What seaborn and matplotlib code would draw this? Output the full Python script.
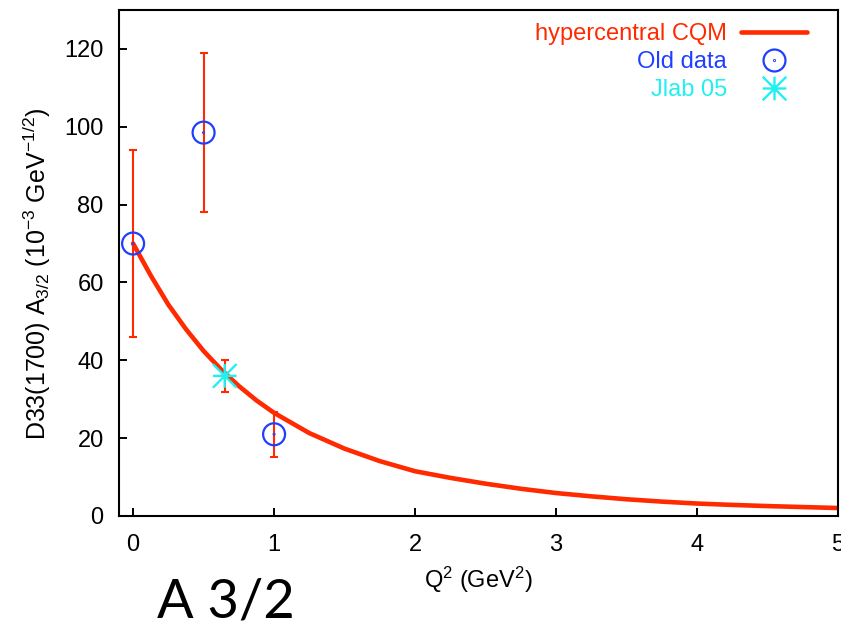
import matplotlib
matplotlib.use("Agg")
import matplotlib.pyplot as plt
import seaborn as sns
import pandas as pd
from matplotlib.path import Path
from matplotlib.lines import Line2D

# ---------------- data ----------------
curve_q2 = [0.0, 0.125, 0.25, 0.375, 0.5, 0.625, 0.75, 0.875, 1.0, 1.25, 1.5,
            1.75, 2.0, 2.25, 2.5, 2.75, 3.0, 3.25, 3.5, 3.75, 4.0, 4.25, 4.5,
            4.75, 5.0]
curve_a32 = [70.0, 61.8, 54.3, 48.0, 42.4, 37.6, 33.4, 29.7, 26.5, 21.3, 17.3,
             14.1, 11.5, 9.8, 8.3, 7.0, 5.9, 5.05, 4.3, 3.7, 3.2, 2.85, 2.55,
             2.3, 2.05]

old_q2 = [0.0, 0.5, 1.0]
old_a32 = [70.0, 98.5, 21.0]
old_err = [24.0, 20.5, 5.8]

jlab_q2 = [0.65]
jlab_a32 = [36.0]
jlab_err = [4.1]

x_ticks = [0, 1, 2, 3, 4, 5]
y_ticks = [0, 20, 40, 60, 80, 100, 120]

series_labels = ["hypercentral CQM", "Old data", "Jlab 05"]

# ---------------- style ----------------
RED = "#ff2a00"
BLUE = "#1f3fff"
CYAN = "#22f0f0"

sns.set_theme(style="white")
plt.rcParams["font.family"] = ["Liberation Sans", "DejaVu Sans"]
plt.rcParams["mathtext.fontset"] = "custom"
plt.rcParams["mathtext.rm"] = "Liberation Sans"
plt.rcParams["mathtext.it"] = "Liberation Sans:italic"
plt.rcParams["mathtext.bf"] = "Liberation Sans:bold"

# custom markers: circle with centre dot, gnuplot-like asterisk (+ and x)
circ_dot = Path.make_compound_path(Path.unit_circle(),
                                   Path.circle(center=(0, 0), radius=0.04))
star = Path([(-1, 0), (1, 0), (0, -1), (0, 1), (-1, -1), (1, 1), (-1, 1), (1, -1)],
            [Path.MOVETO, Path.LINETO] * 4)

fig = plt.figure(figsize=(8.41, 6.31), dpi=100)
ax = fig.add_axes([119 / 841, 115 / 631, 719 / 841, 506 / 631])

curve_df = pd.DataFrame({"q2": curve_q2, "a32": curve_a32})
old_df = pd.DataFrame({"q2": old_q2, "a32": old_a32})
jlab_df = pd.DataFrame({"q2": jlab_q2, "a32": jlab_a32})

# theory curve
sns.lineplot(data=curve_df, x="q2", y="a32", color=RED, linewidth=3.3,
             sort=False, ax=ax, zorder=2, legend=False)

# error bars
ax.errorbar(old_q2, old_a32, yerr=old_err, fmt="none", ecolor=RED,
            elinewidth=1.5, capsize=3, capthick=1.5, zorder=1)
ax.errorbar(jlab_q2, jlab_a32, yerr=jlab_err, fmt="none", ecolor=RED,
            elinewidth=1.5, capsize=3, capthick=1.5, zorder=1)

# data markers
sns.scatterplot(data=old_df, x="q2", y="a32", marker=circ_dot, s=15.8 ** 2,
                facecolor="none", edgecolor=BLUE, linewidth=1.6, ax=ax,
                zorder=3, legend=False)
sns.scatterplot(data=jlab_df, x="q2", y="a32", marker=star, s=17 ** 2,
                facecolor="none", edgecolor=CYAN, linewidth=1.7, ax=ax,
                zorder=4, legend=False)

# axes
ax.set_xlim(-0.1, 5.0)
ax.set_ylim(0, 130)
ax.set_xticks(x_ticks)
ax.set_yticks(y_ticks)
ax.set_xticklabels([str(t) for t in x_ticks])
ax.set_yticklabels([str(t) for t in y_ticks])
for sp in ax.spines.values():
    sp.set_visible(True)
    sp.set_color("black")
    sp.set_linewidth(1.5)
ax.tick_params(axis="both", which="major", direction="in", length=6, width=1.4,
               colors="black", labelsize=17, bottom=True, left=True,
               top=False, right=False)
ax.tick_params(axis="x", pad=13)
ax.tick_params(axis="y", pad=11)

ax.set_xlabel(r"Q$^{2}$ (GeV$^{2}$)", fontsize=17, color="black")
ax.set_ylabel(r"D33(1700) A$_{\mathit{3/2}}$ (10$^{-3}$ GeV$^{\mathit{-1/2}}$)",
              fontsize=18, color="black")
ax.xaxis.set_label_coords(0.5, -0.097)
ax.yaxis.set_label_coords(-0.092, 0.478)

# legend (gnuplot style: text right-aligned, sample on the right)
handles = [
    Line2D([], [], color=RED, linewidth=3.3),
    Line2D([], [], linestyle="none", marker=circ_dot, markersize=15.8,
           markerfacecolor="none", markeredgecolor=BLUE, markeredgewidth=1.6),
    Line2D([], [], linestyle="none", marker=star, markersize=17,
           markerfacecolor="none", markeredgecolor=CYAN, markeredgewidth=1.7),
]
ax.legend(handles, series_labels, loc="upper right",
          bbox_to_anchor=(0.957, 0.974), borderpad=0, borderaxespad=0,
          frameon=False, markerfirst=False, handlelength=2.8,
          handletextpad=0.6, labelspacing=0.26, fontsize=17,
          labelcolor=[RED, BLUE, CYAN])

fig.text(157 / 841, 1 - 618 / 631, "A 3/2", fontsize=39, family="Lato",
         va="baseline", ha="left", color="black")

fig.savefig("out.png", dpi=100)
